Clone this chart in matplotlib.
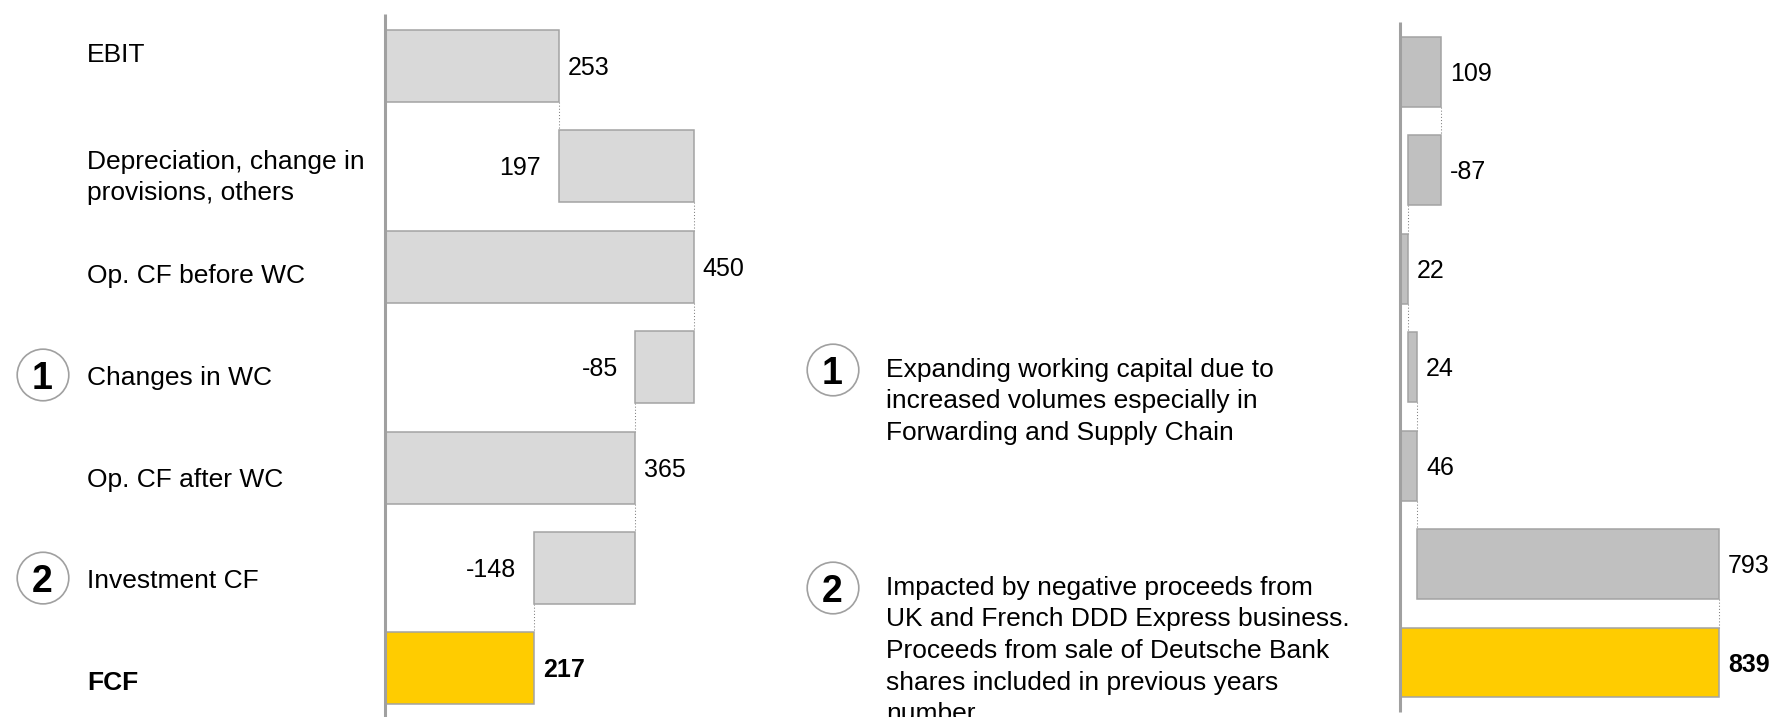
import numpy as np
import matplotlib
matplotlib.use("Agg")
import matplotlib.pyplot as plt
from matplotlib.patches import Circle

plt.rcParams['font.family'] = ['Liberation Sans', 'DejaVu Sans']

# Free cash flow bridge (left) and prior period bridge (right)
left_labels = ["EBIT", "Depreciation, change in\nprovisions, others", "Op. CF before WC",
               "Changes in WC", "Op. CF after WC", "Investment CF", "FCF"]
left_values = [253, 197, 450, -85, 365, -148, 217]
left_kinds = ["start", "step", "total", "step", "total", "step", "total"]

right_values = [109, -87, 22, 24, 46, 793, 839]
right_kinds = ["start", "step", "total", "step", "total", "step", "total"]

# footnote markers: row of the left bridge -> note number
marked_rows = {3: "1", 5: "2"}
notes = [
    ("1", "Expanding working capital due to\nincreased volumes especially in\nForwarding and Supply Chain"),
    ("2", "Impacted by negative proceeds from\nUK and French DDD Express business.\n"
          "Proceeds from sale of Deutsche Bank\nshares included in previous years\nnumber"),
]

W, H = 1777, 717
GREY_L = "#d9d9d9"
GREY_R = "#c0c0c0"
YELLOW = "#ffcc00"
EDGE = "#a3a3a3"
AXIS = "#a0a0a0"


def bridge(values, kinds):
    lefts, widths, ends = [], [], []
    level = 0
    for v, k in zip(values, kinds):
        if k == "step":
            lefts.append(min(level, level + v))
            widths.append(abs(v))
            level += v
        else:
            lefts.append(0)
            widths.append(v)
            level = v
        ends.append(level)
    return lefts, widths, ends


def panel(x0, width_px, px_per_unit, row0, pitch):
    ax = fig.add_axes([x0 / W, 0, width_px / W, 1])
    ax.set_xlim(0, width_px / px_per_unit)
    ax.set_ylim((H - row0) / pitch, -row0 / pitch)
    ax.axis("off")
    return ax


def draw_bridge(ax, values, kinds, grey, bar_h, steps_left, axis_span):
    lefts, widths, ends = bridge(values, kinds)
    rows = np.arange(len(values))
    colors = [grey] * (len(values) - 1) + [YELLOW]
    ax.barh(rows, widths, left=lefts, height=bar_h, color=colors,
            edgecolor=EDGE, linewidth=1.1, zorder=2)
    for i in rows[:-1]:
        ax.plot([ends[i], ends[i]], [i + bar_h / 2, i + 1 - bar_h / 2],
                color="#808080", ls=(0, (1, 2)), lw=0.75, zorder=1)
    ax.vlines(0, axis_span[0], axis_span[1], color=AXIS, lw=2.2, zorder=3, clip_on=False)
    for i, (v, k) in enumerate(zip(values, kinds)):
        weight = "bold" if i == len(values) - 1 else "normal"
        if steps_left and k == "step":
            xy, dx, ha = (lefts[i], i), -12.5, "right"
        else:
            xy, dx, ha = (lefts[i] + widths[i], i), 6.5, "left"
        ax.annotate(str(v), xy, xytext=(dx, -6.5), textcoords="offset points",
                    ha=ha, va="baseline", fontsize=18, fontweight=weight)


def put_lines(x, y, text, pitch, **kw):
    for j, line in enumerate(text.split("\n")):
        canvas.text(x, y + j * pitch, line, va="baseline", ha="left", **kw)


def marker(x, y, num):
    canvas.add_patch(Circle((x, y), 25.8, facecolor="white", edgecolor="#a0a0a0", lw=1.2))
    canvas.text(x - 0.5, y + 14, num, ha="center", va="baseline",
                fontsize=27, fontweight="bold")


fig = plt.figure(figsize=(W / 100, H / 100), dpi=100)
canvas = fig.add_axes([0, 0, 1, 1])
canvas.set_xlim(0, W)
canvas.set_ylim(H, 0)
canvas.axis("off")

# left bridge
ax_l = panel(385, 500, 0.686, 66, 100.4)
draw_bridge(ax_l, left_values, left_kinds, GREY_L, 0.717, True, (-0.518, 6.7))

# right bridge
ax_r = panel(1399.5, 377, 0.3808, 71.8, 98.45)
draw_bridge(ax_r, right_values, right_kinds, GREY_R, 0.711, False, (-0.506, 6.5))

# category labels, baseline nudged within each row
label_nudge = [-0.037, 0.026, 0.16, 0.177, 0.193, 0.2, 0.215]
for i, name in enumerate(left_labels):
    base = 66 + 100.4 * (i + label_nudge[i])
    weight = "bold" if i == len(left_labels) - 1 else "normal"
    put_lines(87, base, name, 31, fontsize=19, fontweight=weight)
    if i in marked_rows:
        marker(43, base - 10, marked_rows[i])

# footnotes in the middle
for (num, text), y in zip(notes, (370, 588)):
    marker(833, y, num)
    put_lines(886.5, y + 6.5, text, 31.7, fontsize=19)

fig.savefig("out.png", dpi=100)
